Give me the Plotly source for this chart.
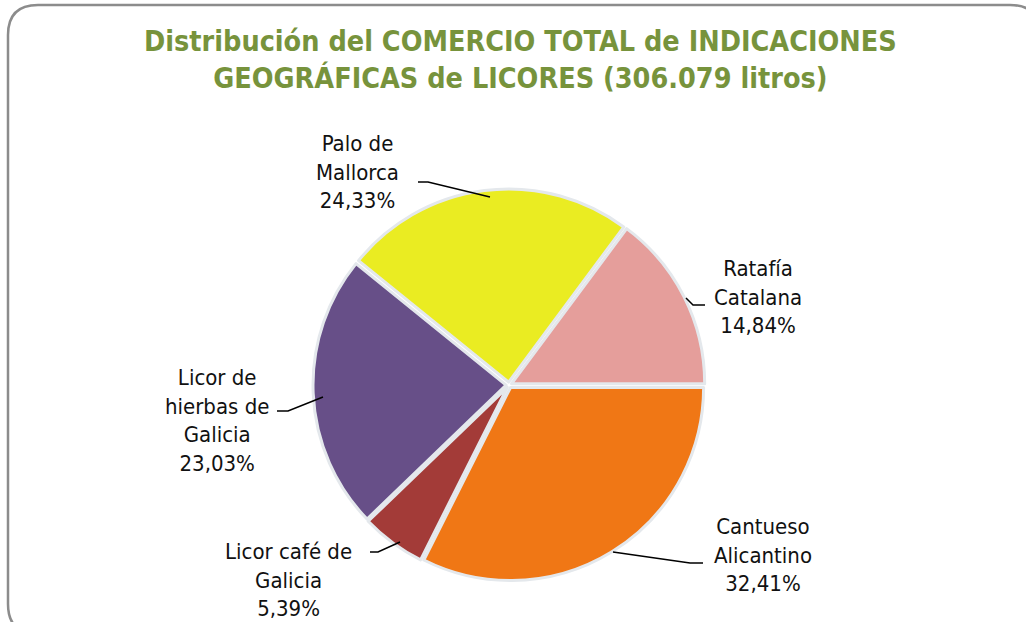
import plotly.graph_objects as go

W, H = 1026, 622

categories = ["Cantueso Alicantino", "Licor café de Galicia", "Licor de hierbas de Galicia",
              "Palo de Mallorca", "Ratafía Catalana"]
shares = [32.41, 5.39, 23.03, 24.33, 14.84]
label_texts = ["Cantueso<br>Alicantino<br>32,41%",
               "Licor café de<br>Galicia<br>5,39%",
               "Licor de<br>hierbas de<br>Galicia<br>23,03%",
               "Palo de<br>Mallorca<br>24,33%",
               "Ratafía<br>Catalana<br>14,84%"]
colors = ["#F07715", "#A33B38", "#674F88", "#EAEC22", "#E59E9B"]

# label centres (pixels) and leader-line polylines (pixels)
label_pos = [(763, 555), (288, 580), (217, 420), (357, 172), (758, 297)]
leaders = [
    [(613, 552), (690, 563), (703, 563)],
    [(400, 542), (378, 552), (370, 552)],
    [(323, 397), (288, 411), (277, 411)],
    [(490, 197), (428, 182), (418, 182)],
    [(686, 298), (693, 305), (705, 305)],
]

def px(x):
    return x / W

def py(y):
    return 1 - y / H

cx, cy, rr = 509, 385, 196

fig = go.Figure(go.Pie(
    labels=categories,
    values=shares,
    sort=False,
    direction="clockwise",
    rotation=90,
    marker=dict(colors=colors, line=dict(color="#E4E8EC", width=3)),
    pull=[0.015] * 5,
    textinfo="none",
    hoverinfo="label+percent",
    showlegend=False,
    domain=dict(x=[px(cx - rr), px(cx + rr)], y=[py(cy + rr), py(cy - rr)]),
))

shapes = []
# rounded border
x0, y0, x1, y1, r = 8, 5, 1040, 634, 30
path = (f"M {px(x0)},{py(y0 + r)} Q {px(x0)},{py(y0)} {px(x0 + r)},{py(y0)} "
        f"L {px(x1 - r)},{py(y0)} Q {px(x1)},{py(y0)} {px(x1)},{py(y0 + r)} "
        f"L {px(x1)},{py(y1 - r)} Q {px(x1)},{py(y1)} {px(x1 - r)},{py(y1)} "
        f"L {px(x0 + r)},{py(y1)} Q {px(x0)},{py(y1)} {px(x0)},{py(y1 - r)} Z")
shapes.append(dict(type="path", xref="paper", yref="paper", path=path,
                   line=dict(color="#8C8C8C", width=2.5), layer="below"))
for pts in leaders:
    p = "M " + " L ".join(f"{px(a)},{py(b)}" for a, b in pts)
    shapes.append(dict(type="path", xref="paper", yref="paper", path=p,
                       line=dict(color="black", width=1.5)))

annotations = []
for (lx, ly), t in zip(label_pos, label_texts):
    annotations.append(dict(x=px(lx), y=py(ly), xref="paper", yref="paper", text=t,
                            showarrow=False, xanchor="center", yanchor="middle", align="center",
                            font=dict(family="DejaVu Sans Condensed, DejaVu Sans", size=22,
                                      color="#111111")))
annotations.append(dict(x=px(520), y=py(60), xref="paper", yref="paper",
                        text="<b>Distribución del COMERCIO TOTAL de INDICACIONES<br>"
                             "GEOGRÁFICAS de LICORES (306.079 litros)</b>",
                        showarrow=False, xanchor="center", yanchor="middle", align="center",
                        font=dict(family="DejaVu Sans Condensed, DejaVu Sans", size=28.5,
                                  color="#77933C")))

fig.update_layout(
    width=W, height=H,
    margin=dict(l=0, r=0, t=0, b=0),
    paper_bgcolor="white", plot_bgcolor="white",
    shapes=shapes, annotations=annotations,
)

fig.write_html("out.html", config={"displayModeBar": False},
               post_script="document.body.style.margin='0';")
